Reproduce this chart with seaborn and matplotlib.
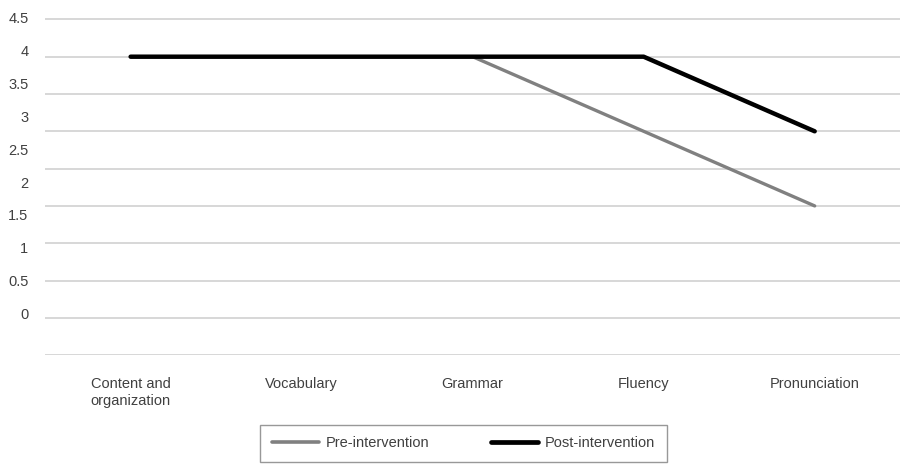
import pandas as pd
import numpy as np
import matplotlib.pyplot as plt
import seaborn as sns
from matplotlib import font_manager

# data
categories = ["Content and\norganization", "Vocabulary", "Grammar", "Fluency", "Pronunciation"]
pre_scores = [4, 4, 4, 3, 2]
post_scores = [4, 4, 4, 4, 3]
series_names = ["Pre-intervention", "Post-intervention"]
grid_values = [0, 0.5, 1, 1.5, 2, 2.5, 3, 3.5, 4, 4.5]
tick_labels = ["0", "0.5", "1", "1.5", "2", "2.5", "3", "3.5", "4", "4.5"]


def main():
    sns.set_theme(style="white")
    names = {f.name for f in font_manager.fontManager.ttflist}
    family = "Liberation Sans Narrow" if "Liberation Sans Narrow" in names else "Liberation Sans"
    plt.rcParams["font.family"] = [family, "DejaVu Sans"]

    df = pd.DataFrame({
        "category": categories * 2,
        "score": pre_scores + post_scores,
        "series": [series_names[0]] * 5 + [series_names[1]] * 5,
    })
    df["x"] = list(range(len(categories))) * 2

    fig = plt.figure(figsize=(9.02, 4.71), dpi=100)
    ax = fig.add_axes([0.05, 0.246, 0.948, 0.716])

    # horizontal gridlines at the data values
    for g in grid_values:
        ax.axhline(g, color="#d4d4d4", lw=1.3, zorder=0)

    sns.lineplot(data=df, x="x", y="score", hue="series",
                 palette={series_names[0]: "#808080", series_names[1]: "#000000"},
                 ax=ax, legend=False, zorder=3)
    for line, lw in zip(ax.get_lines()[-2:], [2.4, 3.2]):
        line.set_linewidth(lw)
        line.set_solid_capstyle("round")

    ax.set_xlim(-0.5, 4.5)
    ax.set_ylim(0, 4.5)
    ax.set_xticks(range(len(categories)))
    ax.set_xticklabels(categories, fontsize=10.5, color="#404040")
    ax.tick_params(axis="x", length=0, pad=16)

    # labels in the source sit on a slightly compressed scale
    label_pos = [0.56 + v * 0.88 for v in grid_values]
    ax.set_yticks(label_pos)
    ax.set_yticklabels(tick_labels, fontsize=10.5, color="#404040")
    ax.tick_params(axis="y", length=0, pad=12)

    ax.set_xlabel("")
    ax.set_ylabel("")
    for s in ax.spines.values():
        s.set_visible(False)

    handles = [plt.Line2D([], [], color="#808080", lw=2.6),
               plt.Line2D([], [], color="#000000", lw=3.4)]
    leg = fig.legend(handles, series_names, loc="center", bbox_to_anchor=(0.514, 0.059),
                     ncol=2, frameon=True, fancybox=False, fontsize=10.5,
                     handlelength=3.2, handletextpad=0.5, columnspacing=4.2,
                     borderpad=0.8, borderaxespad=0)
    leg.get_frame().set_edgecolor("#7f7f7f")
    leg.get_frame().set_linewidth(1.0)
    for t in leg.get_texts():
        t.set_color("#404040")

    fig.savefig("out.png", dpi=100)


if __name__ == "__main__":
    main()
